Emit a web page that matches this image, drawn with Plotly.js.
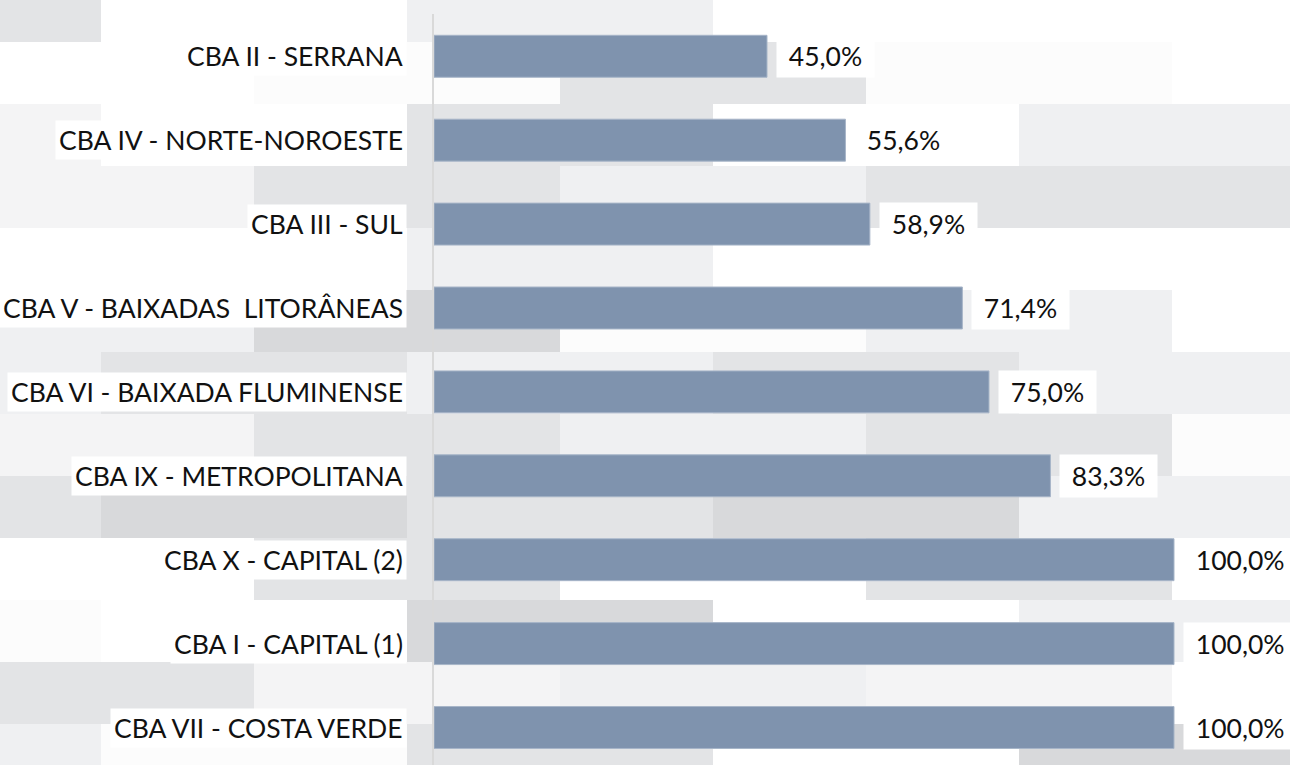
<!DOCTYPE html>
<html>
<head>
<meta charset="utf-8">
<script src="https://cdn.plot.ly/plotly-3.0.1.min.js"></script>
<style>
  html, body { margin: 0; padding: 0; background: #ffffff; }
  #chart { width: 1290px; height: 765px; }
</style>
</head>
<body>
<div id="chart"></div>
<script>
// ---- data ----
const categories = [
  'CBA II - SERRANA',
  'CBA IV - NORTE-NOROESTE',
  'CBA III - SUL',
  'CBA V - BAIXADAS\u00A0 LITORÂNEAS',
  'CBA VI - BAIXADA FLUMINENSE',
  'CBA IX - METROPOLITANA',
  'CBA X - CAPITAL (2)',
  'CBA I - CAPITAL (1)',
  'CBA VII - COSTA VERDE'
];
const values = [45.0, 55.6, 58.9, 71.4, 75.0, 83.3, 100.0, 100.0, 100.0];
const valueLabels = ['45,0%', '55,6%', '58,9%', '71,4%', '75,0%', '83,3%', '100,0%', '100,0%', '100,0%'];

// ---- decorative background mosaic (brick pattern of grey tiles) ----
const tileShades = { W: '#FFFFFF', V: '#FCFCFC', L: '#F4F4F5', M: '#EFF0F2', G: '#E3E4E6', D: '#D8D9DB' };
const tileRows = [
  'GWMWW', 'WVGVW', 'LWGWM', 'LGMGG', 'WWMWW', 'MDVMW', 'MGMGM',
  'LGMGV', 'GDGDM', 'WGWGW', 'VWDWM', 'GLMLW', 'MVGWD'
];

const W = 1290, H = 765;
const M = { l: 434, r: 0, t: 14, b: 0 };
const PW = W - M.l - M.r, PH = H - M.t - M.b;
const px2x = p => (p - M.l) / PW;
const px2y = p => 1 - (p - M.t) / PH;

const shapes = [];
tileRows.forEach((row, r) => {
  const top = -20 + 62 * r;
  const start = (r % 2 === 0) ? -205 : -52;
  row.split('').forEach((c, k) => {
    const x0 = start + 306 * k;
    shapes.push({
      type: 'rect', xref: 'paper', yref: 'paper', layer: 'below',
      x0: px2x(x0), x1: px2x(x0 + 306), y0: px2y(top + 62), y1: px2y(top),
      fillcolor: tileShades[c], line: { width: 0 }
    });
  });
});

const font = { family: 'Lato, "Open Sans", sans-serif', size: 26.5, color: '#111111' };

const annotations = [];
categories.forEach((cat, i) => {
  annotations.push({
    xref: 'paper', yref: 'y', x: px2x(407), y: cat,
    xanchor: 'right', yanchor: 'middle', showarrow: false,
    text: cat, font: font, bgcolor: '#FFFFFF', borderpad: 3
  });
  annotations.push({
    xref: 'x', yref: 'y', x: values[i], y: cat,
    xanchor: 'left', yanchor: 'middle', xshift: 9, showarrow: false,
    text: '\u00A0' + valueLabels[i] + '\u00A0', font: font, bgcolor: '#FFFFFF', borderpad: 5
  });
});

const trace = {
  type: 'bar', orientation: 'h',
  x: values, y: categories,
  width: 0.5,
  marker: { color: '#7F93AE', line: { color: '#A7B5C8', width: 1 } },
  hoverinfo: 'skip'
};

const layout = {
  width: W, height: H,
  margin: M,
  paper_bgcolor: '#FFFFFF',
  plot_bgcolor: 'rgba(0,0,0,0)',
  showlegend: false,
  xaxis: {
    range: [0, PW / 7.40], showgrid: false, zeroline: false,
    showticklabels: false, ticks: '', showline: false, fixedrange: true
  },
  yaxis: {
    type: 'category', categoryorder: 'array', categoryarray: categories,
    range: [8.447, -0.504], autorange: false,
    showgrid: false, zeroline: false, showticklabels: false, ticks: '',
    showline: true, linecolor: '#D9D9D9', linewidth: 2, fixedrange: true
  },
  shapes: shapes,
  annotations: annotations
};

Plotly.newPlot('chart', [trace], layout, { displayModeBar: false, staticPlot: true });
</script>
</body>
</html>
